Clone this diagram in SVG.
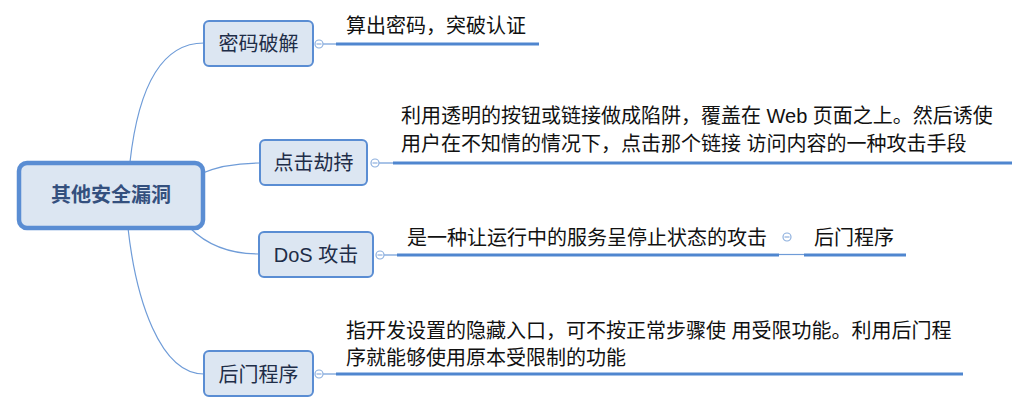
<svg xmlns="http://www.w3.org/2000/svg" width="1016" height="411" viewBox="0 0 1016 411">
<style>
.node{fill:#dce6f2;stroke:#5a8dd3;stroke-width:2}
.root{fill:#dce6f2;stroke:#5a8dd3;stroke-width:4.5}
.ntext{font-family:"Liberation Sans","Noto Sans CJK SC",sans-serif;font-size:20px;fill:#1e2d48;text-anchor:middle}
.rtext{font-family:"Noto Sans CJK SC",sans-serif;font-size:20px;font-weight:bold;fill:#34507e;text-anchor:middle}
.btext{font-family:"Liberation Sans","Noto Sans CJK SC",sans-serif;font-size:20px;fill:#111}
.conn{fill:none;stroke:#6f9cd8;stroke-width:1.2}
.thin{fill:none;stroke:#6f9cd8;stroke-width:1.2}
.thick{fill:none;stroke:#4f86cf;stroke-width:3}
.tog{fill:#fff;stroke:#8eb0de;stroke-width:1.2}
.minus{stroke:#8eb0de;stroke-width:1.2}
</style>
<rect width="1016" height="411" fill="#fff"/>
<g id="connectors">
<path class="conn" d="M130,162 C138,90 160,43 204,43"/>
<path class="conn" d="M200,174 C220,165 240,163 260,163"/>
<path class="conn" d="M190,228 C210,248 235,254 259,254"/>
<path class="conn" d="M128,228 C136,300 160,374 204,374"/>
</g>
<g id="root">
<rect class="root" x="19" y="163" width="184" height="65" rx="8"/>
<text class="rtext" x="111" y="202">其他安全漏洞</text>
</g>
<g id="n1">
<rect class="node" x="204" y="21" width="109" height="45" rx="5"/>
<text class="ntext" x="258.5" y="51">密码破解</text>
<line class="thin" x1="323" y1="44" x2="336" y2="44"/>
<circle class="tog" cx="319" cy="44" r="4"/>
<line class="minus" x1="316.5" y1="44" x2="321.5" y2="44"/>
<line class="thick" x1="336" y1="44" x2="539" y2="44"/>
<text class="btext" x="346" y="33">算出密码，突破认证</text>
</g>
<g id="n2">
<rect class="node" x="260" y="140" width="107" height="45" rx="5"/>
<text class="ntext" x="313.5" y="170">点击劫持</text>
<line class="thin" x1="379" y1="163" x2="393" y2="163"/>
<circle class="tog" cx="375" cy="163" r="4"/>
<line class="minus" x1="372.5" y1="163" x2="377.5" y2="163"/>
<line class="thick" x1="393" y1="163" x2="1012" y2="163"/>
<text class="btext" x="401" y="122.5">利用透明的按钮或链接做成陷阱，覆盖在 Web 页面之上。然后诱使</text>
<text class="btext" x="401" y="151">用户在不知情的情况下，点击那个链接 访问内容的一种攻击手段</text>
</g>
<g id="n3">
<rect class="node" x="259" y="232" width="114" height="45" rx="5"/>
<text class="ntext" x="316" y="262">DoS 攻击</text>
<line class="thin" x1="384" y1="255" x2="397" y2="255"/>
<circle class="tog" cx="380" cy="255" r="4"/>
<line class="minus" x1="377.5" y1="255" x2="382.5" y2="255"/>
<line class="thick" x1="397" y1="255" x2="779" y2="255"/>
<text class="btext" x="407" y="245">是一种让运行中的服务呈停止状态的攻击</text>
<line class="thin" x1="779" y1="254.5" x2="804" y2="254.5"/>
<circle class="tog" cx="787" cy="237" r="4"/>
<line class="minus" x1="784.5" y1="237" x2="789.5" y2="237"/>
</g>
<g id="n3a">
<line class="thick" x1="804" y1="255" x2="906" y2="255"/>
<text class="btext" x="814" y="245">后门程序</text>
</g>
<g id="n4">
<rect class="node" x="204" y="351" width="109" height="45" rx="5"/>
<text class="ntext" x="258.5" y="381.5">后门程序</text>
<line class="thin" x1="323" y1="374" x2="336" y2="374"/>
<circle class="tog" cx="319" cy="374" r="4"/>
<line class="minus" x1="316.5" y1="374" x2="321.5" y2="374"/>
<line class="thick" x1="336" y1="374" x2="963" y2="374"/>
<text class="btext" x="346" y="337.5">指开发设置的隐藏入口，可不按正常步骤使 用受限功能。利用后门程</text>
<text class="btext" x="346" y="365">序就能够使用原本受限制的功能</text>
</g>
</svg>
